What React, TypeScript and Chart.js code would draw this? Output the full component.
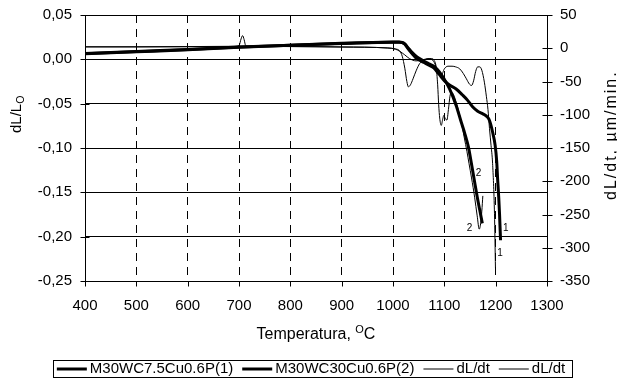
import React, { useEffect, useRef } from 'react';
import { Chart, registerables } from 'chart.js';

Chart.register(...registerables);

const FONT = '"Liberation Sans", Arial, Helvetica, sans-serif';

// ---- data ----
const seriesLabels = ['M30WC7.5Cu0.6P(1)', 'M30WC30Cu0.6P(2)', 'dL/dt', 'dL/dt'];

const tempS1 = [400, 500, 600, 700, 800, 900, 1000, 1012, 1018, 1023, 1030, 1035, 1040, 1045, 1050, 1060, 1070, 1080, 1090, 1100, 1110, 1123, 1135, 1145, 1155, 1165, 1175, 1182, 1188, 1194, 1199, 1202, 1204, 1206, 1207.5, 1209.5];
const dlS1 = [0.0062, 0.0085, 0.0108, 0.0135, 0.0158, 0.0178, 0.0194, 0.0194, 0.0188, 0.0170, 0.0115, 0.0080, 0.0045, 0.0015, -0.0005, -0.0035, -0.0065, -0.0100, -0.0170, -0.0240, -0.0290, -0.0335, -0.0400, -0.0460, -0.0535, -0.0585, -0.0615, -0.0640, -0.0690, -0.0820, -0.0970, -0.1150, -0.1370, -0.1560, -0.1740, -0.2040];

const tempS2 = [400, 500, 600, 700, 800, 900, 1000, 1012, 1018, 1023, 1030, 1035, 1040, 1045, 1050, 1060, 1070, 1080, 1090, 1100, 1110, 1123, 1133, 1140, 1147, 1152, 1158, 1164, 1169, 1174];
const dlS2 = [0.0066, 0.0089, 0.0112, 0.0138, 0.0160, 0.0180, 0.0195, 0.0196, 0.0190, 0.0174, 0.0125, 0.0092, 0.0062, 0.0035, 0.0015, -0.0020, -0.0050, -0.0080, -0.0140, -0.0225, -0.0330, -0.0520, -0.0710, -0.0840, -0.0990, -0.1150, -0.1350, -0.1550, -0.1700, -0.1850];

const tempD1 = [400, 500, 600, 690, 700, 704, 707, 710, 713, 720, 800, 900, 990, 1005, 1013, 1023, 1032, 1045, 1058, 1068, 1076, 1082, 1087, 1094, 1100, 1107, 1115, 1122, 1130, 1137, 1143, 1149, 1153, 1157, 1161, 1165, 1169, 1173, 1178, 1182, 1185, 1188, 1191, 1194, 1197.7, 1199.6];
const rateD1 = [2, 2, 2.3, 2.6, 4, 14, 19, 13, 4, 2.8, 2.6, 1.8, 0.5, -1.5, -4.5, -10, -15.5, -19, -17.5, -15.5, -17, -24, -36, -41, -31, -27, -27, -28, -31, -38, -46, -54, -56, -49, -35, -28, -28, -33, -51, -73, -92, -121, -146, -173, -249, -331];

const tempD2 = [400, 500, 600, 700, 800, 900, 990, 1005, 1013, 1018, 1023, 1027, 1030, 1034, 1039, 1045, 1052, 1060, 1068, 1075, 1080, 1084, 1087, 1089, 1091, 1094, 1097, 1099, 1102, 1105, 1108, 1111, 1114, 1118, 1123, 1128, 1133, 1139, 1144, 1148, 1153, 1159, 1164, 1168, 1171, 1173, 1175];
const rateD2 = [2.2, 2.2, 2.5, 3, 2.5, 2, 0.3, -1, -4, -12, -30, -50, -58, -55, -46, -34, -23, -18, -16, -15.5, -18, -28, -55, -85, -105, -116, -106, -101, -106, -108, -92, -72, -66, -70, -81, -95, -111, -135, -155, -173, -195, -224, -252, -272, -262, -245, -222];

// curve number annotations (temperature, dL/L0)
const noteText = ['2', '2', '1', '1'];
const noteTemp = [1166.5, 1149, 1219.7, 1208.7];
const noteDL = [-0.128, -0.19, -0.191, -0.2184];

const xMin = 400, xMax = 1300, xStep = 100;
const yMin = -0.25, yMax = 0.05, yStep = 0.05;
const y2Min = -350, y2Max = 50, y2Step = 50;

const xTitle = 'Temperatura, ';
const xTitleSup = 'O';
const xTitleEnd = 'C';
const yTitle = 'dL/L';
const yTitleSub = 'O';
const y2Title = 'dL/dt, \u00b5m/min.';

const seriesWidths = [3, 3, 1, 1];

const pts = (xs: number[], ys: number[]) => xs.map((x, i) => ({ x, y: ys[i] }));

const fmt = (v: number) => {
  if (Math.abs(v) < 1e-9) return '0,00';
  return v.toFixed(2).replace('.', ',');
};

const decor = {
  id: 'decor',
  afterDraw(chart: any) {
    const { ctx, chartArea: ca, scales } = chart;
    const x = scales.x, y = scales.y, y2 = scales.y2;
    ctx.save();
    ctx.strokeStyle = '#000';
    ctx.fillStyle = '#000';
    ctx.lineWidth = 1;
    const seg = (x1: number, y1: number, x2: number, y2_: number) => {
      ctx.beginPath();
      ctx.moveTo(x1, y1);
      ctx.lineTo(x2, y2_);
      ctx.stroke();
    };
    const L = Math.round(ca.left) + 0.5;
    const R = Math.round(ca.right) + 0.5;
    const B = Math.round(ca.bottom) + 0.5;
    y.ticks.forEach((t: any) => {
      const py = Math.round(y.getPixelForValue(t.value)) + 0.5;
      seg(L - 5, py, L + 4, py);
    });
    y2.ticks.forEach((t: any) => {
      const py = Math.round(y2.getPixelForValue(t.value)) + 0.5;
      seg(R - 5, py, R + 5, py);
    });
    x.ticks.forEach((t: any) => {
      const px = Math.round(x.getPixelForValue(t.value)) + 0.5;
      seg(px, B, px, B + 5);
    });

    // curve number labels
    ctx.font = `10px ${FONT}`;
    ctx.textAlign = 'center';
    ctx.textBaseline = 'middle';
    noteText.forEach((s, i) => {
      ctx.fillText(s, x.getPixelForValue(noteTemp[i]), y.getPixelForValue(noteDL[i]));
    });

    // x title
    ctx.textAlign = 'left';
    ctx.textBaseline = 'alphabetic';
    const big = `16px ${FONT}`, small = `11px ${FONT}`;
    ctx.font = big;
    const w1 = ctx.measureText(xTitle).width;
    const w3 = ctx.measureText(xTitleEnd).width;
    ctx.font = small;
    const w2 = ctx.measureText(xTitleSup).width;
    const total = w1 + w2 + w3;
    let tx = (ca.left + ca.right) / 2 - total / 2;
    const base = 339;
    ctx.font = big;
    ctx.fillText(xTitle, tx, base);
    tx += w1;
    ctx.font = small;
    ctx.fillText(xTitleSup, tx, base - 6);
    tx += w2;
    ctx.font = big;
    ctx.fillText(xTitleEnd, tx, base);

    // left title (rotated)
    ctx.save();
    ctx.translate(21, 133);
    ctx.rotate(-Math.PI / 2);
    ctx.font = `15px ${FONT}`;
    ctx.fillText(yTitle, 0, 0);
    const wy = ctx.measureText(yTitle).width;
    ctx.font = `10.5px ${FONT}`;
    ctx.fillText(yTitleSub, wy, 3);
    ctx.restore();

    // right title (rotated)
    ctx.save();
    ctx.translate(616, 200);
    ctx.rotate(-Math.PI / 2);
    ctx.font = `16px ${FONT}`;
    try { (ctx as any).letterSpacing = '2px'; } catch (e) { /* ignore */ }
    ctx.fillText(y2Title, 0, 0);
    try { (ctx as any).letterSpacing = '0px'; } catch (e) { /* ignore */ }
    ctx.restore();

    // legend
    ctx.font = `15px ${FONT}`;
    ctx.textBaseline = 'middle';
    const lineLen = 30, gapLine = 3, gapItem = 9;
    const widths = seriesLabels.map((s) => ctx.measureText(s).width);
    const legW = widths.reduce((a, b) => a + b, 0) + seriesLabels.length * (lineLen + gapLine) + (seriesLabels.length - 1) * gapItem;
    const boxL = 53, boxR = 572;
    let lx = boxL + 4 + ((boxR - boxL - 11) - legW) / 2;
    const ly = 369;
    seriesLabels.forEach((s, i) => {
      ctx.lineWidth = seriesWidths[i];
      seg(lx, ly, lx + lineLen, ly);
      ctx.fillText(s, lx + lineLen + gapLine, ly);
      lx += lineLen + gapLine + widths[i] + gapItem;
    });
    ctx.lineWidth = 1;
    ctx.strokeRect(boxL + 0.5, 360.5, boxR - boxL, 17);
    ctx.restore();
  },
};

export default function App() {
  const ref = useRef<HTMLCanvasElement>(null);
  useEffect(() => {
    const tickFont = { family: FONT, size: 15 };
    const chart = new Chart(ref.current as HTMLCanvasElement, {
      type: 'line',
      data: {
        datasets: [
          { label: seriesLabels[0], data: pts(tempS1, dlS1), yAxisID: 'y', borderColor: '#000', borderWidth: seriesWidths[0], pointRadius: 0, cubicInterpolationMode: 'monotone', fill: false },
          { label: seriesLabels[1], data: pts(tempS2, dlS2), yAxisID: 'y', borderColor: '#000', borderWidth: seriesWidths[1], pointRadius: 0, cubicInterpolationMode: 'monotone', fill: false },
          { label: seriesLabels[2], data: pts(tempD1, rateD1), yAxisID: 'y2', borderColor: '#000', borderWidth: seriesWidths[2], pointRadius: 0, cubicInterpolationMode: 'monotone', fill: false },
          { label: seriesLabels[3], data: pts(tempD2, rateD2), yAxisID: 'y2', borderColor: '#000', borderWidth: seriesWidths[3], pointRadius: 0, cubicInterpolationMode: 'monotone', fill: false },
        ],
      } as any,
      options: {
        animation: false,
        responsive: false,
        devicePixelRatio: 1,
        parsing: false,
        layout: { padding: { top: 15, left: 0, right: 0, bottom: 0 } },
        plugins: { legend: { display: false }, tooltip: { enabled: false } },
        scales: {
          x: {
            type: 'linear',
            min: xMin,
            max: xMax,
            ticks: { stepSize: xStep, font: tickFont, color: '#000', padding: 16, maxRotation: 0, autoSkip: false, callback: (v: any) => String(v) },
            grid: {
              color: (c: any) => (c.tick && (c.tick.value === xMin || c.tick.value === xMax) ? 'rgba(0,0,0,0)' : '#000'),
              drawTicks: false,
              lineWidth: 1,
              borderDash: [8, 6],
            },
            border: { display: true, color: '#000', dash: [8, 6] },
            afterFit: (s: any) => { s.height = 102; s.paddingLeft = 0; s.paddingRight = 0; },
          },
          y: {
            type: 'linear',
            position: 'left',
            min: yMin,
            max: yMax,
            ticks: { stepSize: yStep, font: tickFont, color: '#000', padding: 13, callback: (v: any) => fmt(Number(v)) },
            grid: { color: '#000', drawTicks: false, lineWidth: 1 },
            border: { display: true, color: '#000' },
            afterFit: (s: any) => { s.width = 85; s.paddingTop = 0; s.paddingBottom = 0; },
          },
          y2: {
            type: 'linear',
            position: 'right',
            min: y2Min,
            max: y2Max,
            ticks: { stepSize: y2Step, font: tickFont, color: '#000', padding: 13, callback: (v: any) => String(v) },
            grid: { drawOnChartArea: false, drawTicks: false },
            border: { display: true, color: '#000' },
            afterFit: (s: any) => { s.width = 70; s.paddingTop = 0; s.paddingBottom = 0; },
          },
        },
      } as any,
      plugins: [decor],
    });
    return () => chart.destroy();
  }, []);
  return (
    <div style={{ position: 'absolute', left: 0, top: 0, width: 617, height: 383, background: '#fff' }}>
      <canvas ref={ref} width={617} height={383} style={{ width: 617, height: 383, display: 'block' }} />
    </div>
  );
}
